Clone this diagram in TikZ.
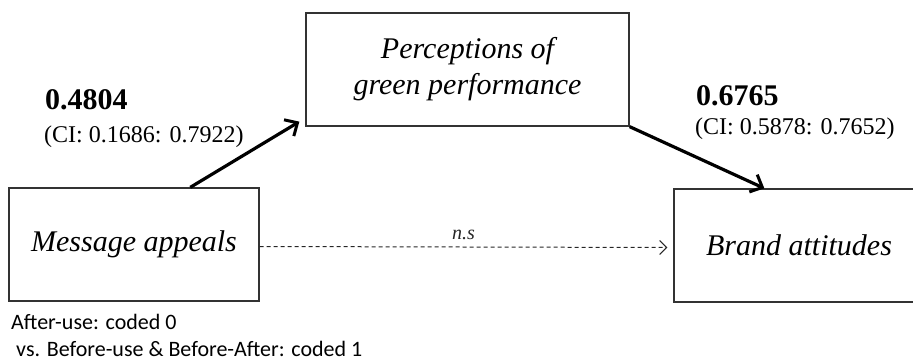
\documentclass[tikz,border=0pt]{standalone}
\usepackage{fontspec}
\setmainfont{Liberation Serif}
\newfontfamily\calib{Carlito}
\usetikzlibrary{arrows.meta,calc}
\tikzset{
  varbox/.style={draw=black!80, line width=1.3pt, rectangle, minimum height=113pt, inner sep=0pt, font=\fontsize{30}{36}\selectfont\itshape, align=center},
  patharrow/.style={line width=3.2pt, -{Straight Barb[length=10pt,width=19pt,line width=3pt]}},
  dasharrow/.style={line width=1pt, black!85, dashed, dash pattern=on 4pt off 3pt, -{Straight Barb[length=7pt,width=14pt,line width=1pt]}},
  coef/.style={anchor=base west, inner sep=0pt, font=\fontsize{30}{36}\selectfont\bfseries},
  ci/.style={anchor=base west, inner sep=0pt, font=\fontsize{24}{28}\selectfont},
  note/.style={anchor=base west, inner sep=0pt, font=\calib\fontsize{22}{26}\selectfont}
}
\begin{document}
\begin{tikzpicture}[x=1pt,y=-1pt]
\useasboundingbox (0,0) rectangle (913,361);
\clip (0,0) rectangle (913,361);
\node[varbox, minimum width=250pt] (ma) at (134,244.5) {Message appeals};
\node[varbox, minimum width=323pt] (pg) at (467.5,69.5) {Perceptions of\\green performance};
\node[varbox, minimum width=250pt] (ba) at (799,245.5) {Brand attitudes};
\draw[patharrow] ($(ma.north west)!0.724!(ma.north east)$) -- ([xshift=-6pt,yshift=5pt]pg.south west);
\draw[patharrow] (pg.south east) -- ($(ba.north west)+(91,0)$);
\draw[dasharrow] ([yshift=-2pt]ma.east) -- node[above=3pt, font=\fontsize{20}{22}\selectfont\itshape] (ns) {n.s} ([xshift=-6pt,yshift=-2pt]ba.west);
\node[coef] (c1) at (45,109) {0.4804};
\node[ci] (ci1) at (44,142) {(CI: 0.1686: 0.7922)};
\node[coef] (c2) at (696,105) {0.6765};
\node[ci] (ci2) at (695,134) {(CI: 0.5878: 0.7652)};
\node[note] (n1) at (11,329) {After-use: coded 0};
\node[note] (n2) at (16,356) {vs. Before-use \& Before-After: coded 1};
\end{tikzpicture}
\end{document}
